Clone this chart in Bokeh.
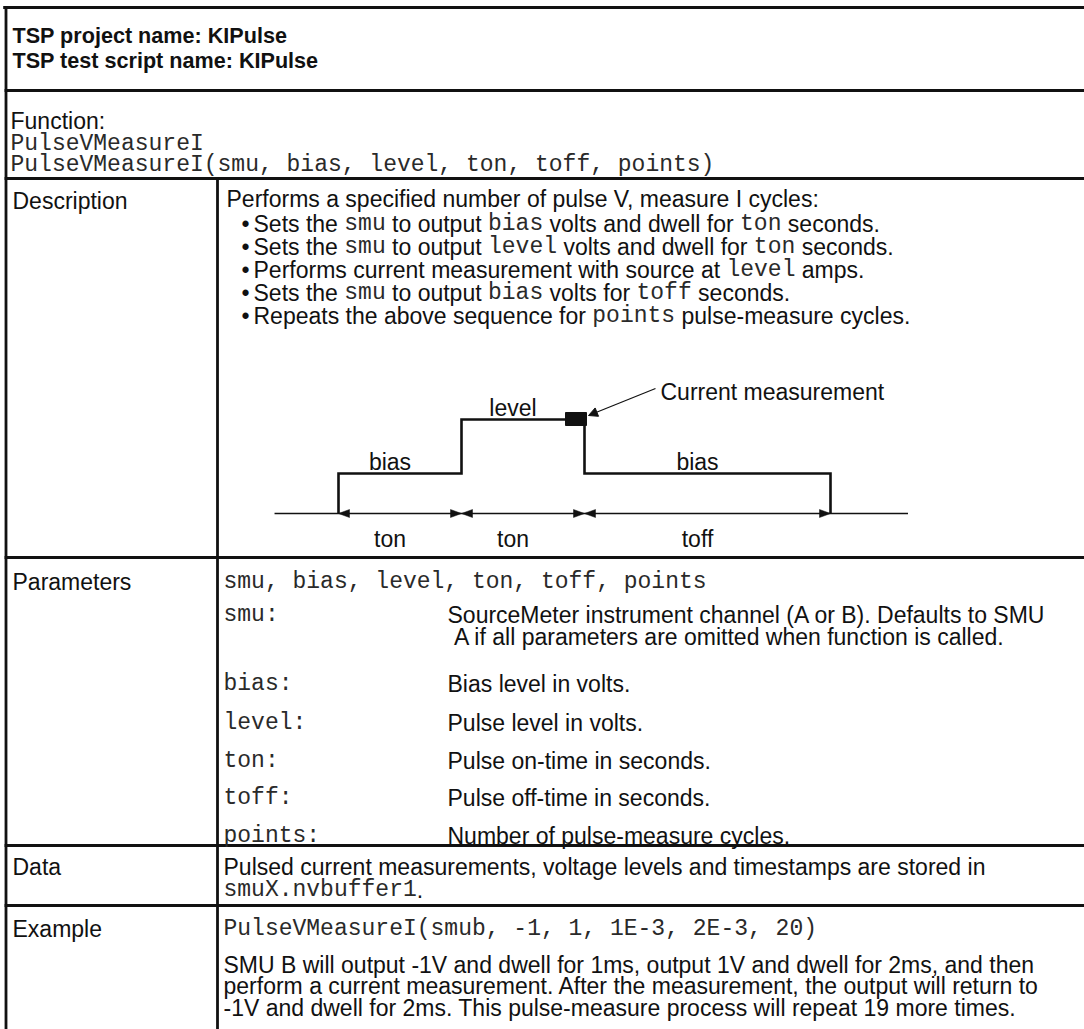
from bokeh.plotting import figure
from bokeh.models import Range1d, Arrow, NormalHead, ColumnDataSource
from bokeh.core.properties import value
from bokeh.embed import file_html
from bokeh.resources import INLINE

# ---------------- content (data) ----------------
TITLE_LINES = ["TSP project name: KIPulse", "TSP test script name: KIPulse"]
FUNCTION_LABEL = "Function:"
FUNCTION_NAME = "PulseVMeasureI"
FUNCTION_SIGNATURE = "PulseVMeasureI(smu, bias, level, ton, toff, points)"
ROW_LABELS = ["Description", "Parameters", "Data", "Example"]
DESCRIPTION_INTRO = "Performs a specified number of pulse V, measure I cycles:"
# (text, is_monospace)
BULLETS = [
    [("Sets the ", 0), ("smu", 1), (" to output ", 0), ("bias", 1),
     (" volts and dwell for ", 0), ("ton", 1), (" seconds.", 0)],
    [("Sets the ", 0), ("smu", 1), (" to output ", 0), ("level", 1),
     (" volts and dwell for ", 0), ("ton", 1), (" seconds.", 0)],
    [("Performs current measurement with source at ", 0), ("level", 1), (" amps.", 0)],
    [("Sets the ", 0), ("smu", 1), (" to output ", 0), ("bias", 1),
     (" volts for ", 0), ("toff", 1), (" seconds.", 0)],
    [("Repeats the above sequence for ", 0), ("points", 1), (" pulse-measure cycles.", 0)],
]
PULSE_PHASES = ["ton", "ton", "toff"]
PULSE_DURATIONS = [1, 1, 2]            # in units of ton
PULSE_LEVEL_NAMES = ["bias", "level", "bias"]
PULSE_LEVEL_VALUES = [1.0, 2.35, 1.0]  # relative to bias height
LEAD_IN, LEAD_OUT = 0.52, 0.63         # baseline tails, in units of ton
MEAS_LABEL = "Current measurement"
PARAM_HEADER = "smu, bias, level, ton, toff, points"
PARAM_NAMES = ["smu:", "bias:", "level:", "ton:", "toff:", "points:"]
PARAM_DESCS = [
    ["SourceMeter instrument channel (A or B). Defaults to SMU",
     " A if all parameters are omitted when function is called."],
    ["Bias level in volts."],
    ["Pulse level in volts."],
    ["Pulse on-time in seconds."],
    ["Pulse off-time in seconds."],
    ["Number of pulse-measure cycles."],
]
DATA_LINES = [
    [("Pulsed current measurements, voltage levels and timestamps are stored in", 0)],
    [("smuX.nvbuffer1", 1), (".", 0)],
]
EXAMPLE_CALL = "PulseVMeasureI(smub, -1, 1, 1E-3, 2E-3, 20)"
EXAMPLE_TEXT = [
    "SMU B will output -1V and dwell for 1ms, output 1V and dwell for 2ms, and then",
    "perform a current measurement. After the measurement, the output will return to",
    "-1V and dwell for 2ms. This pulse-measure process will repeat 19 more times.",
]

# ---------------- layout / style ----------------
W, H = 1084, 1029
SANS, MONO = "Liberation Sans", "Liberation Mono"
FS, FS_MONO, FS_TITLE, FS_DIAG = 23.0, 23.0, 21.6, 23.0
INK = "#111111"
MONO_INK = "#2a2a2a"
LW = 2.8

LEFT, DIV, RIGHT, BOTTOM = 5.5, 217, W, H
TOP = 7
ROW_LINES = [90, 178, 557, 845, 905]

ARIAL = {' ': 278, '!': 278, '"': 355, '#': 556, '$': 556, '%': 889, '&': 667, "'": 191,
         '(': 333, ')': 333, '*': 389, '+': 584, ',': 278, '-': 333, '.': 278, '/': 278,
         ':': 278, ';': 278, '<': 584, '=': 584, '>': 584, '?': 556, '@': 1015,
         'A': 667, 'B': 667, 'C': 722, 'D': 722, 'E': 667, 'F': 611, 'G': 778, 'H': 722,
         'I': 278, 'J': 500, 'K': 667, 'L': 556, 'M': 833, 'N': 722, 'O': 778, 'P': 667,
         'Q': 778, 'R': 722, 'S': 667, 'T': 611, 'U': 722, 'V': 667, 'W': 944, 'X': 667,
         'Y': 667, 'Z': 611, 'a': 556, 'b': 556, 'c': 500, 'd': 556, 'e': 556, 'f': 278,
         'g': 556, 'h': 556, 'i': 222, 'j': 222, 'k': 500, 'l': 222, 'm': 833, 'n': 556,
         'o': 556, 'p': 556, 'q': 556, 'r': 333, 's': 500, 't': 278, 'u': 556, 'v': 500,
         'w': 722, 'x': 500, 'y': 500, 'z': 500}
for d in "0123456789":
    ARIAL[d] = 556


def sans_w(s, fs=FS):
    return sum(ARIAL.get(c, 556) for c in s) * fs / 1000.0


def mono_w(s, fs=FS_MONO):
    return len(s) * 0.6 * fs


p = figure(width=W, height=H, x_range=Range1d(0, W), y_range=Range1d(H, 0),
           x_axis_type=None, y_axis_type=None, toolbar_location=None,
           output_backend="svg", min_border=0, outline_line_color=None,
           background_fill_color="white", border_fill_color="white")

# ---------------- table lines ----------------
seg = dict(x0=[], y0=[], x1=[], y1=[])
def add_seg(a, b, c, d):
    seg["x0"].append(a); seg["y0"].append(b); seg["x1"].append(c); seg["y1"].append(d)

add_seg(LEFT - LW / 2, TOP, RIGHT, TOP)
for y in ROW_LINES:
    add_seg(LEFT, y, RIGHT, y)
add_seg(LEFT, TOP, LEFT, BOTTOM)
add_seg(DIV, ROW_LINES[1], DIV, BOTTOM)
p.segment(x0="x0", y0="y0", x1="x1", y1="y1", source=ColumnDataSource(seg),
          line_color=INK, line_width=LW, line_cap="square")

# ---------------- texts ----------------
texts = {k: dict(x=[], y=[], text=[]) for k in ("sans", "mono", "bold")}
def put(kind, x, y, s):
    # SVG drops leading blanks: shift the start instead
    stripped = s.lstrip(" ")
    lead = s[:len(s) - len(stripped)]
    if lead:
        x += mono_w(lead) if kind == "mono" else sans_w(lead)
    stripped = stripped.rstrip(" ")
    if stripped:
        texts[kind]["x"].append(x); texts[kind]["y"].append(y); texts[kind]["text"].append(stripped)

def put_rich(x, y, parts):
    for s, m in parts:
        if m:
            put("mono", x, y, s); x += mono_w(s)
        else:
            put("sans", x, y, s); x += sans_w(s)

# title
for i, s in enumerate(TITLE_LINES):
    put("bold", 12, 35 + 25 * i, s)
# function
put("sans", 10, 120, FUNCTION_LABEL)
put("mono", 10, 143, FUNCTION_NAME)
put("mono", 10, 164, FUNCTION_SIGNATURE)
# row labels
for s, y in zip(ROW_LABELS, [200, 581, 866, 928]):
    put("sans", 12, y, s)
# description
COL2 = 223
put("sans", 226, 198, DESCRIPTION_INTRO)
for i, parts in enumerate(BULLETS):
    y = 223 + 23 * i
    put("sans", 241, y, "\u2022")
    put_rich(253, y, parts)
# parameters
put("mono", COL2, 581, PARAM_HEADER)
param_y = [614, 683, 722, 760, 797, 835]
DESC_X = 447
for name, desc, y in zip(PARAM_NAMES, PARAM_DESCS, param_y):
    put("mono", COL2, y, name)
    for j, line in enumerate(desc):
        put("sans", DESC_X, y + 22 * j, line)
# data
for parts, y in zip(DATA_LINES, [866, 889]):
    put_rich(COL2, y, parts)
# example
put("mono", COL2, 928, EXAMPLE_CALL)
for i, s in enumerate(EXAMPLE_TEXT):
    put("sans", COL2, 964 + 21.5 * i, s)

common = dict(text_align="left", text_baseline="alphabetic")
p.text(x="x", y="y", text="text", source=ColumnDataSource(texts["sans"]),
       text_font=value(SANS), text_font_size=value(f"{FS}px"), text_color=INK, **common)
p.text(x="x", y="y", text="text", source=ColumnDataSource(texts["mono"]),
       text_font=value(MONO), text_font_size=value(f"{FS_MONO}px"), text_color=MONO_INK, **common)
p.text(x="x", y="y", text="text", source=ColumnDataSource(texts["bold"]),
       text_font=value(SANS), text_font_size=value(f"{FS_TITLE}px"),
       text_font_style="bold", text_color=INK, **common)

# ---------------- pulse diagram ----------------
D_X0, TON_PX, BASE_Y, BIAS_PX = 338, 123, 513, 40
t_edges = [0]
for d in PULSE_DURATIONS:
    t_edges.append(t_edges[-1] + d)
xe = [D_X0 + t * TON_PX for t in t_edges]
ly = [BASE_Y - v * BIAS_PX for v in PULSE_LEVEL_VALUES]

# baseline
p.line([xe[0] - LEAD_IN * TON_PX, xe[-1] + LEAD_OUT * TON_PX], [BASE_Y, BASE_Y],
       line_color=INK, line_width=1.3)
# pulse path
px, py = [xe[0]], [BASE_Y]
for i in range(len(PULSE_DURATIONS)):
    px += [xe[i], xe[i + 1]]
    py += [ly[i], ly[i]]
px.append(xe[-1]); py.append(BASE_Y)
p.line(px, py, line_color=INK, line_width=2.6, line_join="miter")

# dimension arrows
HL, HW = 11, 4
tri_x, tri_y = [], []
for a, b in zip(xe[:-1], xe[1:]):
    tri_x.append([a, a + HL, a + HL]); tri_y.append([BASE_Y, BASE_Y - HW, BASE_Y + HW])
    tri_x.append([b, b - HL, b - HL]); tri_y.append([BASE_Y, BASE_Y - HW, BASE_Y + HW])
p.patches(tri_x, tri_y, fill_color=INK, line_color=INK, line_width=0.5)

# measurement marker (end of the level phase)
mx, my = xe[2], ly[1]
p.quad(left=[mx - 19], right=[mx + 2], top=[my - 7], bottom=[my + 6],
       fill_color=INK, line_color=INK)
p.add_layout(Arrow(end=NormalHead(size=9, fill_color=INK, line_color=INK, line_width=1),
                   x_start=mx + 71, y_start=my - 31, x_end=mx + 4, y_end=my - 4,
                   line_color=INK, line_width=1.2))

# diagram labels
dl = dict(x=[], y=[], text=[])
for i, (a, b) in enumerate(zip(xe[:-1], xe[1:])):
    c = (a + b) / 2
    dl["x"] += [c - 10, c - 10]
    dl["y"] += [ly[i] - 12, BASE_Y + 25]
    dl["text"] += [PULSE_LEVEL_NAMES[i], PULSE_PHASES[i]]
p.text(x="x", y="y", text="text", source=ColumnDataSource(dl),
       text_font=value(SANS), text_font_size=value(f"{FS_DIAG}px"),
       text_color=INK, text_align="center", text_baseline="alphabetic")
p.text(x=[mx + 76], y=[my - 28], text=[MEAS_LABEL],
       text_font=value(SANS), text_font_size=value(f"{FS_DIAG}px"),
       text_color=INK, text_align="left", text_baseline="alphabetic")

open("out.html", "w").write(file_html(p, INLINE))
